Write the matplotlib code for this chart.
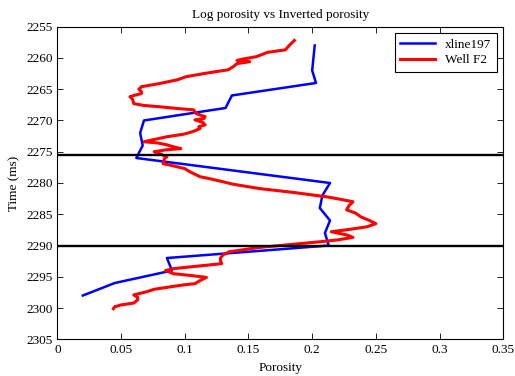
import matplotlib
matplotlib.use("Agg")
import matplotlib.pyplot as plt
from matplotlib.ticker import FormatStrFormatter, MultipleLocator

plt.rcParams['font.family'] = ['Liberation Serif', 'DejaVu Serif']

# inverted porosity along xline 197 (2 ms samples)
inv_time = [2258, 2260, 2262, 2264, 2266, 2268, 2270, 2272, 2274, 2276,
            2280, 2282, 2284, 2286, 2288, 2290, 2292, 2294, 2296, 2298]
inv_por = [0.202, 0.201, 0.200, 0.203, 0.137, 0.132, 0.068, 0.065, 0.067, 0.062,
           0.214, 0.208, 0.206, 0.214, 0.210, 0.213, 0.086, 0.090, 0.045, 0.020]

# porosity log at well F2
well_time = [2257.2, 2257.6, 2258.0, 2258.7, 2259.1, 2259.5, 2259.8, 2260.2, 2260.4, 2260.6,
             2260.9, 2261.4, 2261.9, 2262.2, 2262.6, 2263.0, 2263.5, 2263.8, 2264.1, 2264.6,
             2265.0, 2265.4, 2265.7, 2266.0, 2266.2, 2266.6, 2267.3, 2267.6, 2267.8, 2268.1,
             2268.3, 2268.9, 2269.4, 2269.7, 2269.9, 2270.3, 2270.7, 2271.0, 2271.3, 2271.8,
             2272.2, 2272.6, 2273.0, 2273.4, 2273.6, 2273.9, 2274.2, 2274.5, 2274.7, 2275.0,
             2275.3, 2275.8, 2276.1, 2276.9, 2277.3, 2277.7, 2278.2, 2278.7, 2279.0, 2279.2,
             2279.8, 2280.2, 2280.9, 2281.5, 2282.2, 2282.6, 2283.0, 2283.6, 2284.3, 2284.8,
             2285.4, 2286.0, 2286.5, 2287.0, 2287.4, 2287.8, 2288.3, 2288.7, 2289.1, 2289.4,
             2289.8, 2290.3, 2290.7, 2291.0, 2291.5, 2292.0, 2292.4, 2292.9, 2293.3, 2293.7,
             2294.0, 2294.5, 2294.8, 2295.1, 2295.6, 2296.1, 2296.3, 2296.6, 2297.0, 2297.4,
             2297.9, 2298.3, 2298.7, 2299.2, 2299.5, 2299.8, 2300.1]
well_por = [0.186, 0.184, 0.182, 0.179, 0.165, 0.160, 0.156, 0.145, 0.141, 0.151,
            0.141, 0.138, 0.134, 0.124, 0.112, 0.101, 0.094, 0.087, 0.080, 0.066,
            0.064, 0.066, 0.066, 0.060, 0.057, 0.059, 0.060, 0.068, 0.080, 0.095,
            0.107, 0.109, 0.116, 0.115, 0.108, 0.114, 0.116, 0.111, 0.112, 0.106,
            0.099, 0.086, 0.077, 0.068, 0.079, 0.086, 0.091, 0.097, 0.085, 0.076,
            0.080, 0.086, 0.084, 0.083, 0.092, 0.100, 0.104, 0.109, 0.112, 0.117,
            0.130, 0.138, 0.159, 0.185, 0.211, 0.222, 0.232, 0.229, 0.227, 0.234,
            0.238, 0.245, 0.250, 0.243, 0.230, 0.215, 0.227, 0.232, 0.220, 0.206,
            0.185, 0.159, 0.145, 0.135, 0.130, 0.128, 0.128, 0.129, 0.110, 0.091,
            0.085, 0.091, 0.105, 0.117, 0.112, 0.108, 0.099, 0.089, 0.076, 0.070,
            0.060, 0.063, 0.063, 0.060, 0.050, 0.045, 0.044]

# reservoir top / base picks
horizons = [2275.5, 2290.0]

fig = plt.figure(figsize=(5.15, 3.76), dpi=100)
ax = fig.add_axes([0.1113, 0.0976, 0.866, 0.8314])

ax.plot(inv_por, inv_time, color='#0000ff', lw=1.8, label='xline197')
ax.plot(well_por, well_time, color='#ff0000', lw=2.2, label='Well F2')
for h in horizons:
    ax.axhline(h, color='black', lw=1.7, zorder=5)

ax.set_xlim(0, 0.35)
ax.set_ylim(2305, 2255)
ax.xaxis.set_major_locator(MultipleLocator(0.05))
ax.yaxis.set_major_locator(MultipleLocator(5))
ax.xaxis.set_major_formatter(FormatStrFormatter('%g'))
ax.tick_params(direction='in', top=True, right=True, length=4, width=0.6, labelsize=9.5)
for s in ax.spines.values():
    s.set_linewidth(0.8)

ax.set_xlabel('Porosity', fontsize=9.5, labelpad=4)
ax.set_ylabel('Time (ms)', fontsize=9.5, labelpad=4)
ax.set_title('Log porosity vs Inverted porosity', fontsize=9.5, pad=6)

leg = ax.legend(loc='upper right', fontsize=9.5, handlelength=2.6, borderaxespad=0.5,
                labelspacing=0.25, fancybox=False, framealpha=1, edgecolor='black')
leg.get_frame().set_linewidth(0.8)

fig.savefig('out.png', dpi=100)
